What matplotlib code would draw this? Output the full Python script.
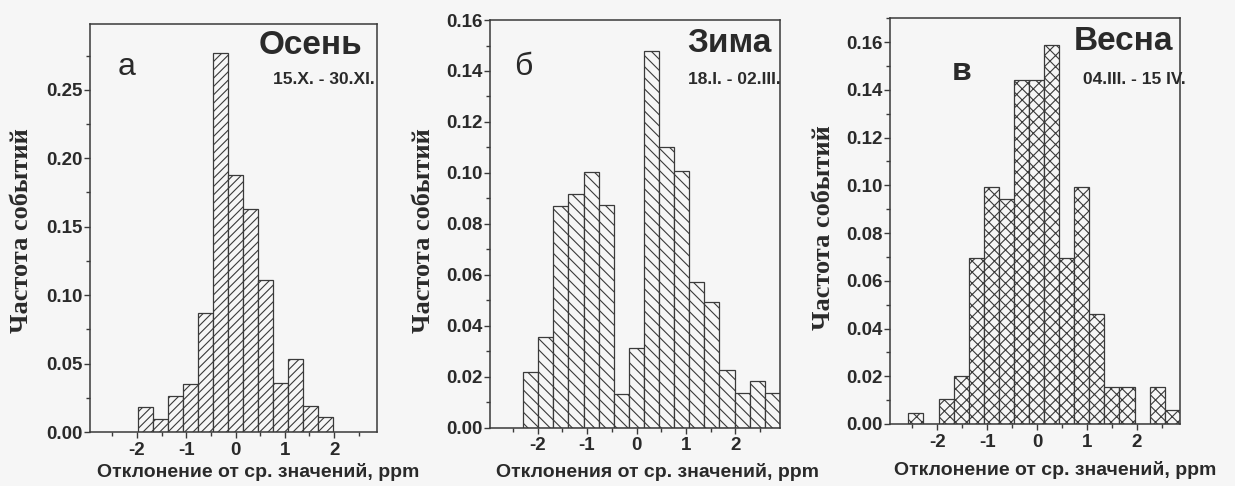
import matplotlib
matplotlib.use('Agg')
import matplotlib.pyplot as plt
from matplotlib.ticker import MultipleLocator, FormatStrFormatter

# histogram data (left bin edges, bin width, frequency)
left_a = [-1.98, -1.675, -1.37, -1.065, -0.76, -0.455, -0.15, 0.155, 0.46, 0.765, 1.07, 1.375, 1.68]
freq_a = [0.018, 0.0095, 0.0265, 0.035, 0.087, 0.277, 0.188, 0.163, 0.111, 0.036, 0.053, 0.019, 0.011]
width_a = 0.305

left_b = [-2.29, -1.985, -1.68, -1.375, -1.07, -0.765, -0.46, -0.155, 0.15, 0.455, 0.76, 1.065,
          1.37, 1.675, 1.98, 2.285, 2.59]
freq_b = [0.0218, 0.0356, 0.0872, 0.0917, 0.1005, 0.0875, 0.0132, 0.0313, 0.148, 0.110, 0.1008,
          0.0571, 0.0493, 0.0226, 0.0137, 0.0185, 0.0138]
width_b = 0.305

left_c = [-2.58, -2.278, -1.976, -1.674, -1.372, -1.07, -0.768, -0.466, -0.164, 0.138, 0.44, 0.742,
          1.044, 1.346, 1.648, 1.95, 2.252, 2.554]
freq_c = [0.0048, 0.0, 0.0103, 0.020, 0.0696, 0.0993, 0.0944, 0.1439, 0.144, 0.1586, 0.0696, 0.0993,
          0.046, 0.0157, 0.0157, 0.0, 0.0157, 0.0057]
width_c = 0.302

letters = ['а', 'б', 'в']
seasons = ['Осень', 'Зима', 'Весна']
periods = ['15.X. - 30.XI.', '18.I. - 02.III.', '04.III. - 15 IV.']
xlabels = ['Отклонение от ср. значений, ppm', 'Отклонения от ср. значений, ppm',
           'Отклонение от ср. значений, ppm']
ylabel = 'Частота событий'

ink = '#3a3a3a'
paper = '#f6f6f6'
plt.rcParams['hatch.linewidth'] = 0.8
plt.rcParams['font.family'] = ['Liberation Sans', 'DejaVu Sans']

fig = plt.figure(figsize=(12.35, 4.86), dpi=100, facecolor=paper)

# axes boxes in figure fractions
boxes = [[0.0729, 0.111, 0.2324, 0.8395],
         [0.3968, 0.120, 0.2348, 0.8388],
         [0.7206, 0.1276, 0.2348, 0.835]]
xlims = [(-2.95, 2.87), (-2.96, 2.90), (-2.95, 2.86)]
ylims = [(0, 0.298), (0, 0.16), (0, 0.17)]
ymaj = [0.05, 0.02, 0.02]
hatches = ['////', '\\\\\\', 'xxx']
data = [(left_a, freq_a, width_a), (left_b, freq_b, width_b), (left_c, freq_c, width_c)]

# text placement (pixels of the 1235x486 image)
letter_xy = [(127, 67), (523, 67), (962, 72)]
season_xy = [(362, 45), (772, 43), (1173, 42)]
period_xy = [(375, 80), (781, 79), (1186, 80)]
xlab_xy = [(258, 472), (657, 472), (1055, 470)]
ylab_xy = [(22, 231), (423, 231), (824, 228)]

W, H = 1235.0, 486.0

for i in range(3):
    ax = fig.add_axes(boxes[i])
    ax.set_facecolor(paper)
    left, freq, w = data[i]
    ax.bar(left, freq, width=w, align='edge', facecolor=paper, edgecolor=ink,
           linewidth=0.9, hatch=hatches[i], zorder=2)
    ax.set_xlim(*xlims[i])
    ax.set_ylim(*ylims[i])
    ax.xaxis.set_major_locator(MultipleLocator(1))
    ax.xaxis.set_minor_locator(MultipleLocator(0.5))
    ax.yaxis.set_major_locator(MultipleLocator(ymaj[i]))
    ax.yaxis.set_minor_locator(MultipleLocator(ymaj[i] / 2))
    ax.yaxis.set_major_formatter(FormatStrFormatter('%.2f'))
    ax.xaxis.set_major_formatter(FormatStrFormatter('%d'))
    ax.tick_params(which='both', direction='out', color=ink, width=1.0)
    ax.tick_params(which='major', length=4, labelsize=13.5, labelcolor='#2a2a2a')
    ax.tick_params(which='minor', length=3)
    ax.tick_params(axis='y', pad=1)
    ax.tick_params(axis='x', pad=3)
    for lab in ax.get_xticklabels() + ax.get_yticklabels():
        lab.set_fontweight('bold')
    for sp in ax.spines.values():
        sp.set_color(ink)
        sp.set_linewidth(1.1)

    fig.text(letter_xy[i][0] / W, 1 - letter_xy[i][1] / H, letters[i], fontsize=23,
             fontweight='bold' if i == 2 else 'normal', color='#2a2a2a', ha='center', va='center')
    fig.text(season_xy[i][0] / W, 1 - season_xy[i][1] / H, seasons[i], fontsize=24,
             fontweight='bold', color='#2a2a2a', ha='right', va='center')
    fig.text(period_xy[i][0] / W, 1 - period_xy[i][1] / H, periods[i], fontsize=12.5,
             fontweight='bold', color='#2a2a2a', ha='right', va='center')
    fig.text(xlab_xy[i][0] / W, 1 - xlab_xy[i][1] / H, xlabels[i], fontsize=14,
             fontweight='bold', color='#2a2a2a', ha='center', va='center')
    fig.text(ylab_xy[i][0] / W, 1 - ylab_xy[i][1] / H, ylabel, fontsize=19,
             fontweight='bold', color='#2a2a2a', ha='center', va='center', rotation=90,
             family=['Liberation Serif', 'DejaVu Serif'])

fig.savefig('out.png', dpi=100, facecolor=paper)
